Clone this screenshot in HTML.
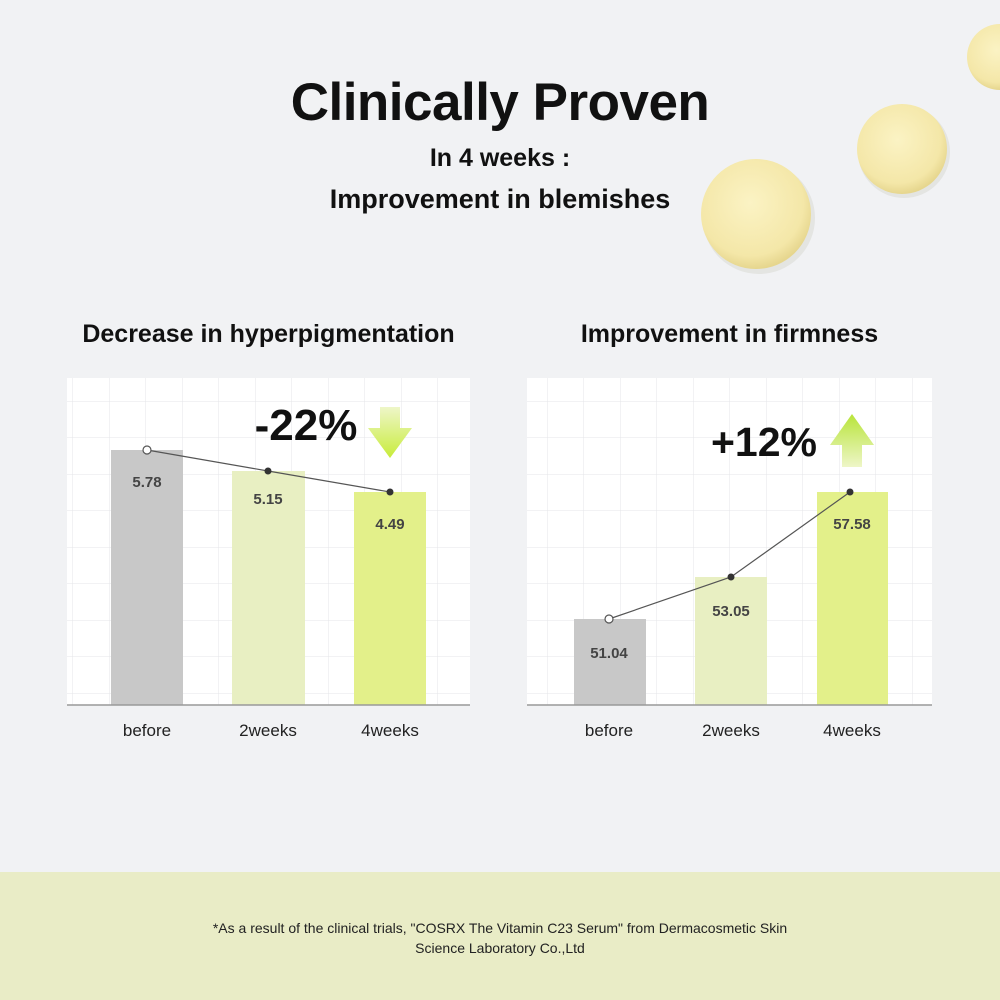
<!DOCTYPE html>
<html><head><meta charset="utf-8"><style>
body{margin:0;width:1000px;height:1000px;background:#f1f2f4;font-family:"Liberation Sans",sans-serif;position:relative;overflow:hidden}
.t{position:absolute;left:0;width:1000px;text-align:center;color:#111}
</style></head><body>
<svg width="1000" height="1000" style="position:absolute;left:0;top:0">
<defs>
<radialGradient id="blob" cx="0.45" cy="0.4" r="0.6"><stop offset="0" stop-color="#fbf3c4"/><stop offset="0.8" stop-color="#f4e7a8"/><stop offset="1" stop-color="#e6d68e"/></radialGradient>
<pattern id="grid" width="36.5" height="36.5" patternUnits="userSpaceOnUse"><path d="M36.5 0V36.5M0 36.5H36.5" stroke="#e4e5e8" stroke-width="1" fill="none"/></pattern>
<linearGradient id="ad" x1="0" y1="0" x2="0" y2="1"><stop offset="0" stop-color="#eef6c8"/><stop offset="1" stop-color="#c8ec3a"/></linearGradient>
<linearGradient id="au" x1="0" y1="1" x2="0" y2="0"><stop offset="0" stop-color="#eef6c8"/><stop offset="1" stop-color="#b8e43a"/></linearGradient>
</defs>
<circle cx="759" cy="218" r="56" fill="#d8d8d0" opacity="0.5"/>
<circle cx="756" cy="214" r="55" fill="url(#blob)"/>
<circle cx="904" cy="152" r="46" fill="#d8d8d0" opacity="0.5"/>
<circle cx="902" cy="149" r="45" fill="url(#blob)"/>
<circle cx="1000" cy="57" r="33" fill="url(#blob)"/>
<rect x="67" y="378" width="403" height="327" fill="#fff"/>
<rect x="67" y="378" width="403" height="327" fill="url(#grid)"/>
<rect x="527" y="378" width="405" height="327" fill="#fff"/>
<rect x="527" y="378" width="405" height="327" fill="url(#grid)"/>
<rect x="111" y="450" width="72" height="255" fill="#c8c8c8"/>
<rect x="232" y="471" width="73" height="234" fill="#e8efc2"/>
<rect x="354" y="492" width="72" height="213" fill="#e3f08a"/>
<rect x="574" y="619" width="72" height="86" fill="#c8c8c8"/>
<rect x="695" y="577" width="72" height="128" fill="#e8efc2"/>
<rect x="817" y="492" width="71" height="213" fill="#e3f08a"/>
<line x1="67" y1="705" x2="470" y2="705" stroke="#999" stroke-width="1.5"/>
<line x1="527" y1="705" x2="932" y2="705" stroke="#999" stroke-width="1.5"/>
<polyline points="147,450 268,471 390,492" fill="none" stroke="#555" stroke-width="1.2"/>
<circle cx="147" cy="450" r="4" fill="#fff" stroke="#555" stroke-width="1.2"/>
<circle cx="268" cy="471" r="3.5" fill="#333"/><circle cx="390" cy="492" r="3.5" fill="#333"/>
<polyline points="609,619 731,577 850,492" fill="none" stroke="#555" stroke-width="1.2"/>
<circle cx="609" cy="619" r="4" fill="#fff" stroke="#555" stroke-width="1.2"/>
<circle cx="731" cy="577" r="3.5" fill="#333"/><circle cx="850" cy="492" r="3.5" fill="#333"/>
<path d="M380 407H400V428H412L390 458L368 428H380Z" fill="url(#ad)"/>
<path d="M842 467H862V445H874L852 414L830 445H842Z" fill="url(#au)"/>
<g font-family="Liberation Sans,sans-serif" font-size="15" fill="#444" text-anchor="middle" font-weight="bold">
<text x="147" y="487">5.78</text><text x="268" y="504">5.15</text><text x="390" y="529">4.49</text>
<text x="609" y="658">51.04</text><text x="731" y="616">53.05</text><text x="852" y="529">57.58</text>
</g>
<g font-family="Liberation Sans,sans-serif" font-size="17" fill="#222" text-anchor="middle">
<text x="147" y="736">before</text><text x="268" y="736">2weeks</text><text x="390" y="736">4weeks</text>
<text x="609" y="736">before</text><text x="731" y="736">2weeks</text><text x="852" y="736">4weeks</text>
</g>
<text x="306" y="440" font-family="Liberation Sans,sans-serif" font-size="44" font-weight="bold" fill="#111" text-anchor="middle">-22%</text>
<text x="764" y="456" font-family="Liberation Sans,sans-serif" font-size="41" font-weight="bold" fill="#111" text-anchor="middle">+12%</text>
<rect x="0" y="872" width="1000" height="128" fill="#e9ecc6"/>
</svg>
<div class="t" style="top:72px;font-size:53px;font-weight:bold;letter-spacing:-0.5px">Clinically Proven</div>
<div class="t" style="top:144px;font-size:25px;font-weight:bold">In 4 weeks :</div>
<div class="t" style="top:184px;font-size:27px;font-weight:bold">Improvement in blemishes</div>
<div style="position:absolute;left:42px;width:453px;top:320px;text-align:center;font-size:25px;font-weight:bold;color:#111">Decrease in hyperpigmentation</div>
<div style="position:absolute;left:502px;width:455px;top:320px;text-align:center;font-size:25px;font-weight:bold;color:#111">Improvement in firmness</div>
<div class="t" style="top:918px;font-size:14px;line-height:20px;color:#222">*As a result of the clinical trials, "COSRX The Vitamin C23 Serum" from Dermacosmetic Skin<br>Science Laboratory Co.,Ltd</div>
</body></html>
